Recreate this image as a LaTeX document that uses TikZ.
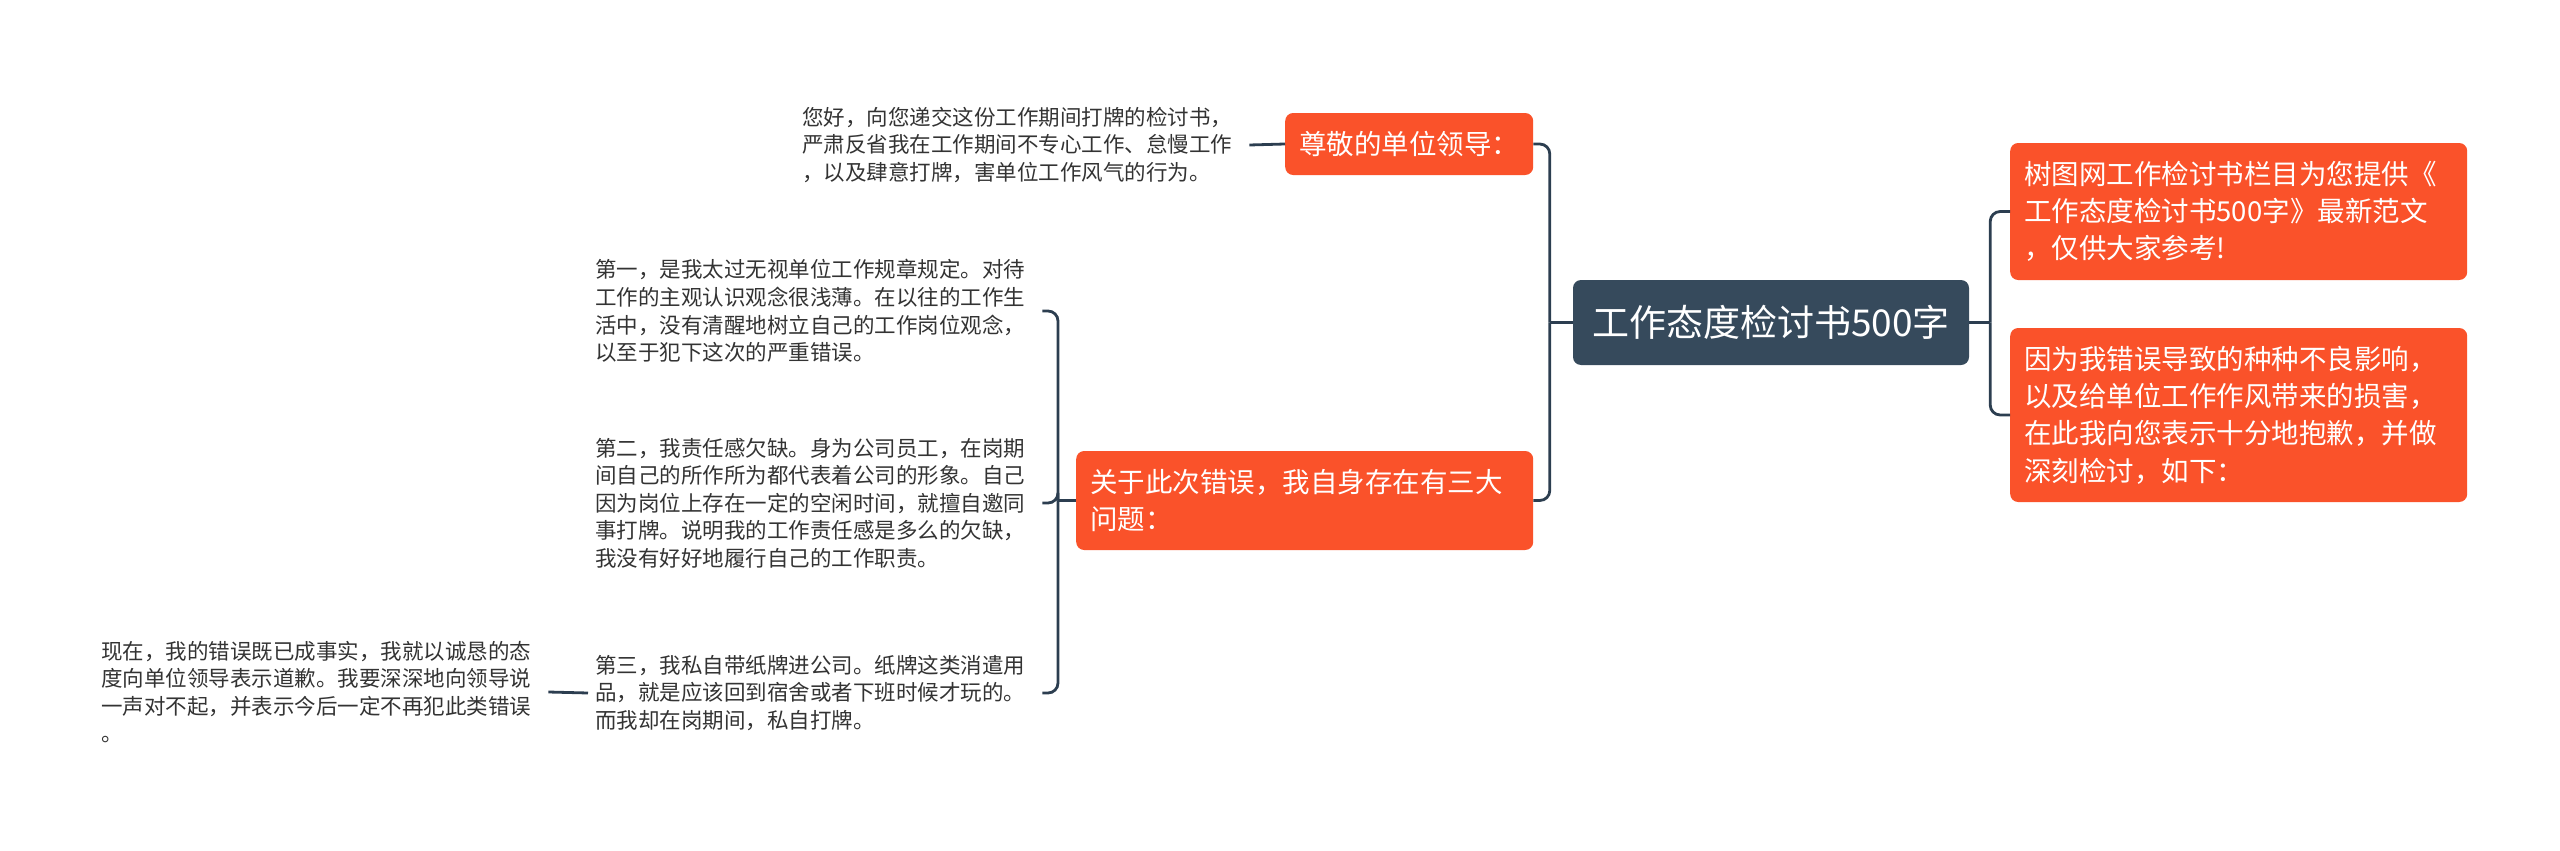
\documentclass[tikz,border=0pt]{standalone}
\usepackage{fontspec}
\setmainfont{Noto Sans CJK SC}
\usetikzlibrary{calc}
\definecolor{orangebox}{RGB}{250,82,42}
\definecolor{rootc}{RGB}{54,74,92}
\definecolor{connc}{RGB}{44,62,80}
\definecolor{parac}{RGB}{51,51,51}
\begin{document}
\begin{tikzpicture}[x=1pt,y=-1pt,
  conn/.style={draw=connc, line width=2.8pt},
  elbow/.style={conn, rounded corners=10pt},
  obox/.style={fill=orangebox, text=white, rounded corners=8pt,
    font=\fontsize{27.5pt}{37.3pt}\selectfont, align=left,
    inner xsep=14pt, inner ysep=0pt, anchor=west, minimum width=457pt},
  para/.style={text=parac, font=\fontsize{21.5pt}{27.6pt}\selectfont,
    align=left, text width=440pt, inner xsep=7pt, inner ysep=0pt, anchor=west},
]
\useasboundingbox (0,0) rectangle (2560,851);

% root
\node[fill=rootc, text=white, rounded corners=8pt, minimum width=396pt,
  minimum height=85pt, inner sep=0pt, font=\fontsize{37pt}{44pt}\selectfont]
  (root) at (1771,322.5) {工作态度检讨书500字};

% right side
\node[obox, minimum height=137pt, text width=429pt] (ra) at (2010,211.5)
  {树图网工作检讨书栏目为您提供《\\工作态度检讨书500字》最新范文\\，仅供大家参考!};
\node[obox, minimum height=174pt, text width=429pt] (rb) at (2010,415)
  {因为我错误导致的种种不良影响，\\以及给单位工作作风带来的损害，\\在此我向您表示十分地抱歉，并做\\深刻检讨，如下：};

% left side main nodes
\node[obox, minimum width=247pt, minimum height=62pt] (la) at (1285,144)
  {尊敬的单位领导：};
\node[obox, minimum height=99pt, text width=429pt] (lb) at (1076,500.5)
  {关于此次错误，我自身存在有三大\\问题：};

% paragraphs
\node[para] (p0) at (795,145)
  {您好，向您递交这份工作期间打牌的检讨书，\\严肃反省我在工作期间不专心工作、怠慢工作\\，以及肆意打牌，害单位工作风气的行为。};
\node[para] (p1) at (588,311)
  {第一，是我太过无视单位工作规章规定。对待\\工作的主观认识观念很浅薄。在以往的工作生\\活中，没有清醒地树立自己的工作岗位观念，\\以至于犯下这次的严重错误。};
\node[para] (p2) at (588,503)
  {第二，我责任感欠缺。身为公司员工，在岗期\\间自己的所作所为都代表着公司的形象。自己\\因为岗位上存在一定的空闲时间，就擅自邀同\\事打牌。说明我的工作责任感是多么的欠缺，\\我没有好好地履行自己的工作职责。};
\node[para] (p3) at (588,693)
  {第三，我私自带纸牌进公司。纸牌这类消遣用\\品，就是应该回到宿舍或者下班时候才玩的。\\而我却在岗期间，私自打牌。};
\node[para] (p4) at (94,692)
  {现在，我的错误既已成事实，我就以诚恳的态\\度向单位领导表示道歉。我要深深地向领导说\\一声对不起，并表示今后一定不再犯此类错误\\。};

% junctions
\coordinate (jR) at ($(root.east)+(21,0)$);
\coordinate (jL) at ($(root.west)+(-23,0)$);
\coordinate (jB) at ($(lb.west)+(-18,0)$);

% connectors right
\draw[conn] (root.east) -- (jR);
\draw[elbow] (jR) |- (ra.west);
\draw[elbow] (jR) |- (rb.west);

% connectors left
\draw[conn] (root.west) -- (jL);
\draw[elbow] (jL) |- (la.east);
\draw[elbow] (jL) |- (lb.east);
\draw[conn] (la.west) -- (p0.east);

\draw[conn] (lb.west) -- (jB);
\draw[elbow] (jB) |- (p1.east);
\draw[elbow] (jB) |- (p2.east);
\draw[elbow] (jB) |- (p3.east);
\draw[conn] (p3.west) -- (p4.east);
\end{tikzpicture}
\end{document}
